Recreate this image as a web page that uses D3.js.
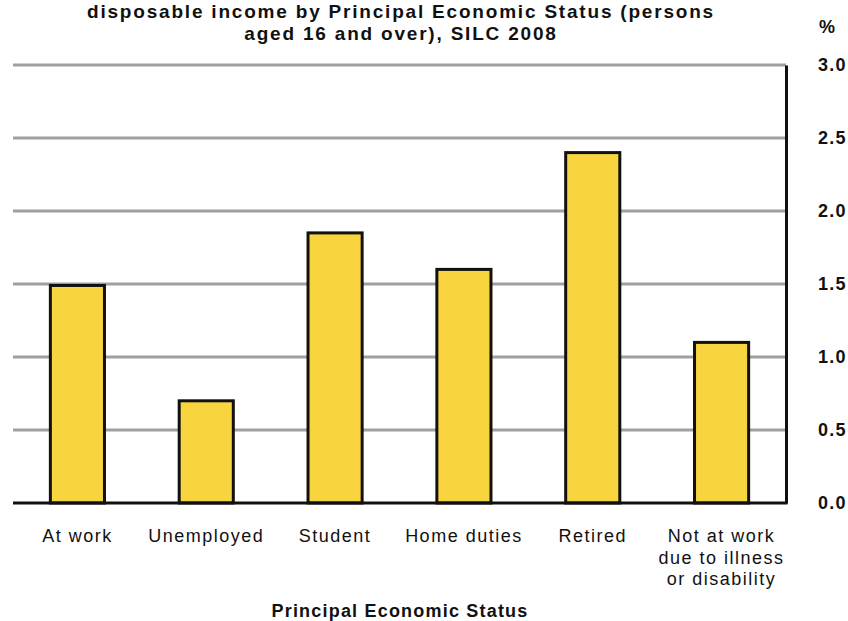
<!DOCTYPE html>
<html><head><meta charset="utf-8">
<script src="https://cdn.jsdelivr.net/npm/d3@7"></script>
<style>body{margin:0;background:#fff}svg{display:block}text{font-family:"Liberation Sans",Arial,sans-serif}</style>
</head><body><svg id="c" width="848" height="621"></svg>
<script>
const categories = ["At work","Unemployed","Student","Home duties","Retired","Not at work|due to illness|or disability"];
const values = [1.49, 0.70, 1.85, 1.60, 2.40, 1.10];
const yTicks = [0,0.5,1,1.5,2,2.5,3];
const titleLines = ["disposable income by Principal Economic Status (persons","aged 16 and over), SILC 2008"];

const svg = d3.select("#c");
const pLeft = 13, pRight = 786, pTop = 65, pBottom = 503;
const x = d3.scaleBand().domain(categories).range([pLeft, pRight]).paddingInner(0.58).paddingOuter(0.29);
const y = d3.scaleLinear().domain([0,3]).range([pBottom, pTop]);

// gridlines
svg.append("g").selectAll("line").data(yTicks.filter(d=>d>0)).join("line")
  .attr("x1", pLeft).attr("x2", pRight).attr("y1", d=>y(d)).attr("y2", d=>y(d))
  .attr("stroke", "#a0a0a0").attr("stroke-width", 3);

// bars
svg.append("g").selectAll("rect").data(values).join("rect")
  .attr("x", (d,i)=>x(categories[i])).attr("width", x.bandwidth())
  .attr("y", d=>y(d)).attr("height", d=>pBottom - y(d))
  .attr("fill", "#f8d53e").attr("stroke", "#111").attr("stroke-width", 3);

// axes
const yAxis = d3.axisRight(y).tickValues(yTicks).tickFormat(d3.format(".1f")).tickSize(0).tickPadding(32);
const gy = svg.append("g").attr("transform", `translate(${pRight},0)`).call(yAxis);
gy.select(".domain").attr("stroke", "#111").attr("stroke-width", 3);
gy.selectAll("text").attr("font-size", 18).attr("font-weight", "bold").attr("fill", "#111")
  .attr("letter-spacing", 1.2).attr("font-family", "Liberation Sans, Arial, sans-serif");

svg.append("line").attr("x1", pLeft).attr("x2", pRight+1.5).attr("y1", pBottom).attr("y2", pBottom)
  .attr("stroke", "#111").attr("stroke-width", 3);

// category labels
const gx = svg.append("g");
categories.forEach((c) => {
  const cx = x(c) + x.bandwidth()/2;
  const t = gx.append("text").attr("text-anchor", "middle").attr("font-size", 18).attr("fill", "#111")
    .attr("letter-spacing", 1.5).attr("x", cx).attr("y", 542);
  c.split("|").forEach((s, j) => t.append("tspan").attr("x", cx).attr("dy", j ? 21.5 : 0).text(s));
});

svg.append("text").attr("x", 400).attr("y", 617).attr("text-anchor", "middle").attr("letter-spacing", 1.2)
  .attr("font-size", 18).attr("font-weight", "bold").attr("fill", "#111").text("Principal Economic Status");

svg.append("text").attr("x", 827).attr("y", 33).attr("text-anchor", "middle")
  .attr("font-size", 18).attr("font-weight", "bold").attr("fill", "#111").text("%");

titleLines.forEach((s, i) => svg.append("text").attr("x", 401).attr("y", 18 + i*22).attr("text-anchor", "middle")
  .attr("font-size", 19).attr("font-weight", "bold").attr("letter-spacing", 1.8).attr("fill", "#111").text(s));
</script></body></html>
